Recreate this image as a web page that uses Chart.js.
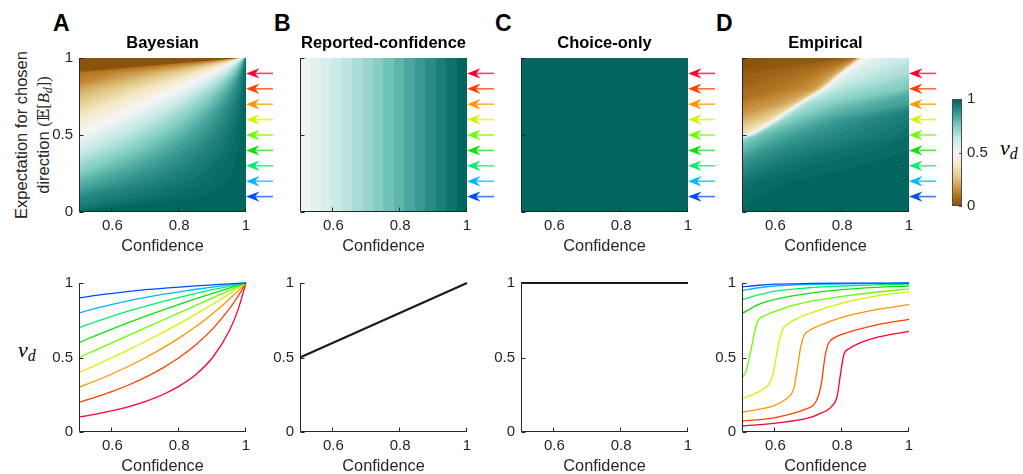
<!DOCTYPE html>
<html>
<head>
<meta charset="utf-8">
<script src="https://cdn.jsdelivr.net/npm/chart.js@4.4.1/dist/chart.umd.min.js"></script>
<style>
html, body { margin: 0; padding: 0; background: #fff; overflow: hidden; width: 1023px; height: 474px; }
.txt { position: absolute; font-family: 'Liberation Sans', Arial, Helvetica, sans-serif; color: #262626; white-space: nowrap; }
.letter { font-weight: bold; font-size: 23px; line-height: 23px; color: #000; }
.math { font-family: 'Liberation Serif', 'DejaVu Serif', serif; font-style: italic; font-size: 22px; line-height: 22px; color: #000; }
.math sub, .ylab sub { font-size: 0.72em; vertical-align: -0.28em; line-height: 0; }
.serif { font-family: 'Liberation Serif', 'DejaVu Serif', serif; }
</style>
</head>
<body>
<div class="txt letter" style="left:53px;top:12px;">A</div>
<div class="txt letter" style="left:274px;top:12px;">B</div>
<div class="txt letter" style="left:495px;top:12px;">C</div>
<div class="txt letter" style="left:716px;top:12px;">D</div>
<div class="txt ylab" style="left:-68px;top:113px;width:200px;height:44px;line-height:22px;font-size:16.5px;text-align:center;transform:rotate(-90deg);">Expectation for chosen<br>direction <span class="serif">(𝔼[<i>B</i><sub><i>d</i></sub>])</span></div>
<div class="txt math" style="left:18px;top:339px;">v<sub>d</sub></div>
<div class="txt math" style="left:1000px;top:137px;">v<sub>d</sub></div>

<script>
// ---------- data ----------
const confidenceTicks = [0.6, 0.8, 1];
const valueTicks = [0, 0.5, 1];
const colorbarTicks = [0, 0.5, 1];
const xLabel = 'Confidence';
const panelTitles = ['Bayesian', 'Reported-confidence', 'Choice-only', 'Empirical'];

// expectation levels marked by arrows / drawn as curves (blue = 0.1 ... red = 0.9)
const expectationLevels = [0.1, 0.2, 0.3, 0.4, 0.5, 0.6, 0.7, 0.8, 0.9];
const levelColors = ['#004dff', '#00b7ff', '#00f06a', '#10e010', '#6aff00', '#d8f000', '#ff9500', '#ff4000', '#ff0033'];

// Bayesian: v_d vs confidence, one row per expectation (0 ... 1)
const bayesConfidence = [0.5, 0.55, 0.6, 0.65, 0.7, 0.75, 0.8, 0.85, 0.9, 0.95, 0.975, 1];
const bayes00 = [1, 1, 1, 1, 1, 1, 1, 1, 1, 1, 1, 1];
const bayes01 = [0.9, 0.917, 0.931, 0.944, 0.955, 0.964, 0.973, 0.981, 0.988, 0.994, 0.997, 1];
const bayes02 = [0.8, 0.83, 0.857, 0.881, 0.903, 0.923, 0.941, 0.958, 0.973, 0.987, 0.994, 1];
const bayes03 = [0.7, 0.74, 0.778, 0.813, 0.845, 0.875, 0.903, 0.93, 0.955, 0.978, 0.989, 1];
const bayes04 = [0.6, 0.647, 0.692, 0.736, 0.778, 0.818, 0.857, 0.895, 0.931, 0.966, 0.983, 1];
const bayes05 = [0.5, 0.55, 0.6, 0.65, 0.7, 0.75, 0.8, 0.85, 0.9, 0.95, 0.975, 1];
const bayes06 = [0.4, 0.449, 0.5, 0.553, 0.609, 0.667, 0.727, 0.791, 0.857, 0.927, 0.963, 1];
const bayes07 = [0.3, 0.344, 0.391, 0.443, 0.5, 0.563, 0.632, 0.708, 0.794, 0.891, 0.944, 1];
const bayes08 = [0.2, 0.234, 0.273, 0.317, 0.368, 0.429, 0.5, 0.586, 0.692, 0.826, 0.907, 1];
const bayes09 = [0.1, 0.12, 0.143, 0.171, 0.206, 0.25, 0.308, 0.386, 0.5, 0.679, 0.813, 1];
const bayes10 = [0, 0, 0, 0, 0, 0, 0, 0, 0, 0, 0, 1];

// Reported-confidence and choice-only
const reportedConfidence = [0.5, 1];
const reportedValues = [0.5, 1];
const choiceConfidence = [0.5, 1];
const choiceValues = [1, 1];

// Empirical: [confidence, v_d] per expectation row
const emp00 = [[0.5, 1], [1, 1]];
const emp01 = [[0.5, 0.974], [0.55, 0.985], [0.6, 0.992], [0.7, 0.997], [0.8, 0.999], [1, 1]];
const emp02 = [[0.5, 0.948], [0.55, 0.968], [0.6, 0.98], [0.7, 0.99], [0.8, 0.995], [1, 0.998]];
const emp03 = [[0.5, 0.888], [0.55, 0.92], [0.6, 0.945], [0.7, 0.968], [0.8, 0.98], [0.9, 0.988], [1, 0.993]];
const emp04 = [[0.5, 0.795], [0.55, 0.856], [0.6, 0.89], [0.7, 0.93], [0.8, 0.955], [0.9, 0.97], [1, 0.98]];
const emp05 = [[0.5, 0.362], [0.512, 0.41], [0.522, 0.5], [0.532, 0.606], [0.542, 0.713], [0.552, 0.76], [0.567, 0.78], [0.6, 0.81], [0.65, 0.848], [0.7, 0.875], [0.8, 0.91], [0.9, 0.938], [1, 0.96]];
const emp06 = [[0.5, 0.222], [0.55, 0.27], [0.58, 0.32], [0.592, 0.38], [0.602, 0.5], [0.612, 0.616], [0.622, 0.69], [0.636, 0.724], [0.67, 0.767], [0.72, 0.81], [0.8, 0.865], [0.9, 0.912], [1, 0.94]];
const emp07 = [[0.5, 0.131], [0.6, 0.18], [0.63, 0.218], [0.646, 0.25], [0.656, 0.3], [0.666, 0.433], [0.676, 0.573], [0.686, 0.649], [0.7, 0.68], [0.73, 0.713], [0.82, 0.782], [0.91, 0.825], [1, 0.855]];
const emp08 = [[0.5, 0.073], [0.6, 0.097], [0.69, 0.153], [0.716, 0.185], [0.73, 0.25], [0.74, 0.36], [0.748, 0.5], [0.758, 0.59], [0.775, 0.63], [0.82, 0.67], [0.91, 0.722], [1, 0.756]];
const emp09 = [[0.5, 0.039], [0.6, 0.06], [0.7, 0.095], [0.73, 0.12], [0.77, 0.175], [0.785, 0.24], [0.795, 0.39], [0.805, 0.52], [0.82, 0.558], [0.85, 0.595], [0.91, 0.638], [1, 0.675]];
const emp10 = [[0.5, 0.01], [0.8, 0.03], [0.84, 0.1], [0.86, 0.45], [0.9, 0.55], [1, 0.62]];

const expectationGrid = [0, 0.1, 0.2, 0.3, 0.4, 0.5, 0.6, 0.7, 0.8, 0.9, 1];

// ---------- style / layout ----------
const FONT = "'Liberation Sans', Arial, Helvetica, sans-serif";
const TEXT = '#262626';
const AXIS = '#262626';
const plotLefts = [79, 300, 521, 742];
const PLOT_W = 167, PLOT_H = 154, Y_AXIS_W = 60, X_AXIS_H = 44;
const TOP_ROW_Y = 58, BOTTOM_ROW_Y = 278;
const panelLevels = [64, 32, 64, 64];   // colour steps used by each heat map

// brown - white - teal map
const cmapStops = [[0, '#8c510a'], [0.125, '#bf812d'], [0.25, '#dfc27d'], [0.375, '#f6e8c3'], [0.5, '#f5f5f5'],
                   [0.625, '#c7eae5'], [0.75, '#80cdc1'], [0.875, '#35978f'], [1, '#01665e']];

function hexRGB(h) { return [1, 3, 5].map(i => parseInt(h.slice(i, i + 2), 16)); }
function cmapRGB(v) {
    for (let i = 1; i < cmapStops.length; i++) {
        if (v <= cmapStops[i][0]) {
            const [v0, h0] = cmapStops[i - 1], [v1, h1] = cmapStops[i];
            const a = hexRGB(h0), b = hexRGB(h1), t = (v - v0) / (v1 - v0);
            return a.map((c, k) => Math.round(c + (b[k] - c) * t));
        }
    }
    return hexRGB(cmapStops[cmapStops.length - 1][1]);
}
function makePalette(n) { return Array.from({ length: n }, (_, k) => cmapRGB(k / (n - 1))); }
function levelColor(palette, v) {
    const n = palette.length;
    const k = Math.min(n - 1, Math.max(0, Math.floor(v * n)));
    return palette[k];
}

// confidence at which a (monotone) row reaches value v
function rowInverse(pts, v) {
    const n = pts.length;
    if (v <= pts[0][1]) return pts[0][0] - (pts[0][1] - v);
    if (v >= pts[n - 1][1]) return pts[n - 1][0] + (v - pts[n - 1][1]);
    for (let i = 1; i < n; i++) {
        if (v <= pts[i][1]) {
            const [c0, v0] = pts[i - 1], [c1, v1] = pts[i];
            return v1 === v0 ? c0 : c0 + (c1 - c0) * (v - v0) / (v1 - v0);
        }
    }
    return pts[n - 1][0];
}

// shade between two measured rows by moving along the level lines
function heatValue(rows, c, e) {
    let k = 0;
    while (k < rows.length - 2 && e > rows[k + 1].e) k++;
    const r0 = rows[k], r1 = rows[k + 1];
    const t = Math.min(1, Math.max(0, (e - r0.e) / (r1.e - r0.e)));
    let lo = -1, hi = 2;
    for (let i = 0; i < 36; i++) {
        const mid = (lo + hi) / 2;
        const cm = (1 - t) * rowInverse(r0.pts, mid) + t * rowInverse(r1.pts, mid);
        if (cm < c) lo = mid; else hi = mid;
    }
    return Math.min(1, Math.max(0, (lo + hi) / 2));
}

function heatmapPlugin(rows, levels) {
    const palette = makePalette(levels);
    let cache = null;
    return {
        id: 'heatmap',
        beforeDatasetsDraw(chart) {
            const { ctx, chartArea: a, scales: { x, y } } = chart;
            const left = Math.round(a.left), top = Math.round(a.top);
            const w = Math.round(a.right) - left, h = Math.round(a.bottom) - top;
            if (!cache || cache.width !== w || cache.height !== h) {
                cache = document.createElement('canvas');
                cache.width = w; cache.height = h;
                const g = cache.getContext('2d');
                const img = g.createImageData(w, h);
                for (let py = 0; py < h; py++) {
                    const e = y.getValueForPixel(top + py + 0.5);
                    for (let px = 0; px < w; px++) {
                        const c = x.getValueForPixel(left + px + 0.5);
                        const col = levelColor(palette, heatValue(rows, c, e));
                        const o = (py * w + px) * 4;
                        img.data[o] = col[0]; img.data[o + 1] = col[1]; img.data[o + 2] = col[2]; img.data[o + 3] = 255;
                    }
                }
                g.putImageData(img, 0, 0);
            }
            ctx.drawImage(cache, left, top);
        }
    };
}

const arrowPlugin = {
    id: 'levelArrows',
    afterDraw(chart) {
        const { ctx, chartArea: a, scales: { y } } = chart;
        expectationLevels.forEach((e, i) => {
            const py = y.getPixelForValue(e);
            const tip = a.right;
            ctx.save();
            ctx.strokeStyle = levelColors[i];
            ctx.globalAlpha = 0.75;
            ctx.lineWidth = 1.6;
            ctx.beginPath(); ctx.moveTo(tip + 8, py); ctx.lineTo(tip + 27, py); ctx.stroke();
            ctx.globalAlpha = 1;
            ctx.fillStyle = levelColors[i];
            ctx.beginPath();
            ctx.moveTo(tip, py);
            ctx.lineTo(tip + 13.5, py - 5.2);
            ctx.lineTo(tip + 9, py);
            ctx.lineTo(tip + 13.5, py + 5.2);
            ctx.closePath(); ctx.fill();
            ctx.restore();
        });
    }
};

// left + bottom axis lines with inward ticks (box off)
const axesPlugin = {
    id: 'boxOffAxes',
    afterDraw(chart) {
        const { ctx, chartArea: a, scales: { x, y } } = chart;
        const L = Math.round(a.left) + 0.5, B = Math.round(a.bottom) - 0.5;
        ctx.save();
        ctx.strokeStyle = AXIS;
        ctx.lineWidth = 1;
        ctx.beginPath();
        ctx.moveTo(L, Math.round(a.top));
        ctx.lineTo(L, B);
        ctx.lineTo(Math.round(a.right), B);
        x.ticks.forEach(t => {
            const px = Math.round(x.getPixelForValue(t.value)) - 0.5;
            ctx.moveTo(px, B); ctx.lineTo(px, B - 4);
        });
        y.ticks.forEach(t => {
            const py = Math.round(y.getPixelForValue(t.value)) + 0.5;
            ctx.moveTo(L, py); ctx.lineTo(L + 4, py);
        });
        ctx.stroke();
        ctx.restore();
    }
};

function xAxis() {
    return {
        type: 'linear', min: 0.5, max: 1,
        afterBuildTicks: s => { s.ticks = confidenceTicks.map(value => ({ value })); },
        afterFit: s => { s.height = X_AXIS_H; },
        grid: { display: false, drawTicks: false },
        border: { display: false },
        ticks: { color: TEXT, font: { family: FONT, size: 15 }, padding: 5, maxRotation: 0, autoSkip: false, callback: v => String(v) },
        title: { display: true, text: xLabel, color: TEXT, font: { family: FONT, size: 16.3 }, padding: { top: 0, bottom: 0 } }
    };
}
function yAxis(showLabels) {
    return {
        type: 'linear', min: 0, max: 1,
        afterBuildTicks: s => { s.ticks = valueTicks.map(value => ({ value })); },
        afterFit: s => { s.width = Y_AXIS_W; },
        grid: { display: false, drawTicks: false },
        border: { display: false },
        ticks: { display: showLabels, color: TEXT, font: { family: FONT, size: 15 }, padding: 6, autoSkip: false, callback: v => String(v) }
    };
}

function makeCanvas(left, top, w, h) {
    const c = document.createElement('canvas');
    c.width = w; c.height = h;
    c.style.cssText = `position:absolute;left:${left}px;top:${top}px;width:${w}px;height:${h}px;`;
    document.body.appendChild(c);
    return c;
}

function toRows(xs, rowList) {
    return rowList.map((vals, i) => ({ e: expectationGrid[i], pts: xs.map((c, j) => [c, vals[j]]) }));
}

const heatRows = [
    toRows(bayesConfidence, [bayes00, bayes01, bayes02, bayes03, bayes04, bayes05, bayes06, bayes07, bayes08, bayes09, bayes10]),
    [0, 1].map(e => ({ e, pts: reportedConfidence.map((c, j) => [c, reportedValues[j]]) })),
    [0, 1].map(e => ({ e, pts: choiceConfidence.map((c, j) => [c, choiceValues[j]]) })),
    [emp00, emp01, emp02, emp03, emp04, emp05, emp06, emp07, emp08, emp09, emp10].map((pts, i) => ({ e: expectationGrid[i], pts }))
];

// ---------- top row: heat maps ----------
panelTitles.forEach((title, p) => {
    const canvas = makeCanvas(plotLefts[p] - Y_AXIS_W, 0, Y_AXIS_W + PLOT_W + 34, TOP_ROW_Y + PLOT_H + X_AXIS_H);
    new Chart(canvas, {
        type: 'line',
        data: { datasets: [] },
        options: {
            responsive: false, animation: false, events: [],
            layout: { padding: { left: 0, right: 34, top: 0, bottom: 0 } },
            scales: { x: xAxis(), y: yAxis(p === 0) },
            plugins: {
                legend: { display: false }, tooltip: { enabled: false },
                title: { display: true, text: title, fullSize: false, color: '#000',
                         font: { family: FONT, size: 16.5, weight: 'bold' }, padding: { top: 33.4, bottom: 4.8 } }
            }
        },
        plugins: [heatmapPlugin(heatRows[p], panelLevels[p]), arrowPlugin, axesPlugin]
    });
});

// ---------- bottom row: v_d curves ----------
function lineSet(points, color, width) {
    return { data: points.map(([x, y]) => ({ x, y })), borderColor: color, borderWidth: width,
             pointRadius: 0, fill: false, cubicInterpolationMode: 'monotone', clip: 4 };
}
const bayesRows = [bayes01, bayes02, bayes03, bayes04, bayes05, bayes06, bayes07, bayes08, bayes09];
const empRows = [emp01, emp02, emp03, emp04, emp05, emp06, emp07, emp08, emp09];
const bottomSets = [
    bayesRows.map((vals, i) => lineSet(bayesConfidence.map((c, j) => [c, vals[j]]), levelColors[i], 1.3)),
    [lineSet(reportedConfidence.map((c, j) => [c, reportedValues[j]]), '#1a1a1a', 2.2)],
    [lineSet(choiceConfidence.map((c, j) => [c, choiceValues[j]]), '#1a1a1a', 2.2)],
    empRows.map((pts, i) => lineSet(pts, levelColors[i], 1.3))
];

bottomSets.forEach((datasets, p) => {
    const canvas = makeCanvas(plotLefts[p] - Y_AXIS_W, BOTTOM_ROW_Y - 10, Y_AXIS_W + PLOT_W + 10, 10 + PLOT_H + X_AXIS_H);
    new Chart(canvas, {
        type: 'line',
        data: { datasets },
        options: {
            responsive: false, animation: false, events: [],
            layout: { padding: { left: 0, right: 10, top: 10, bottom: 0 } },
            scales: { x: xAxis(), y: yAxis(true) },
            plugins: { legend: { display: false }, tooltip: { enabled: false } }
        },
        plugins: [axesPlugin]
    });
});

// ---------- colour bar ----------
const colorbarPalette = makePalette(64);
const colorbarPlugin = {
    id: 'colorbar',
    beforeDatasetsDraw(chart) {
        const { ctx, chartArea: a, scales: { y } } = chart;
        const left = Math.round(a.left), right = Math.round(a.right);
        const top = Math.round(a.top), bottom = Math.round(a.bottom);
        for (let py = top; py < bottom; py++) {
            const c = levelColor(colorbarPalette, y.getValueForPixel(py + 0.5));
            ctx.fillStyle = `rgb(${c[0]},${c[1]},${c[2]})`;
            ctx.fillRect(left, py, right - left, 1);
        }
        ctx.save();
        ctx.strokeStyle = '#4d4d4d';
        ctx.lineWidth = 1;
        ctx.strokeRect(left + 0.5, top + 0.5, right - left - 1, bottom - top - 1);
        ctx.beginPath();
        y.ticks.forEach(t => {
            const py = Math.round(y.getPixelForValue(t.value)) + 0.5;
            ctx.moveTo(right, py); ctx.lineTo(right - 3, py);
        });
        ctx.stroke();
        ctx.restore();
    }
};
new Chart(makeCanvas(940, 85, 80, 135), {
    type: 'line',
    data: { datasets: [] },
    options: {
        responsive: false, animation: false, events: [],
        layout: { padding: { left: 12, right: 18, top: 12, bottom: 12 } },
        scales: {
            x: { type: 'linear', min: 0, max: 1, display: false },
            y: {
                type: 'linear', position: 'right', min: 0, max: 1,
                afterBuildTicks: s => { s.ticks = colorbarTicks.map(value => ({ value })); },
                afterFit: s => { s.width = 40; },
                grid: { display: false, drawTicks: false },
                border: { display: false },
                ticks: { color: TEXT, font: { family: FONT, size: 15 }, padding: 5, callback: v => String(v) }
            }
        },
        plugins: { legend: { display: false }, tooltip: { enabled: false } }
    },
    plugins: [colorbarPlugin]
});
</script>
</body>
</html>
